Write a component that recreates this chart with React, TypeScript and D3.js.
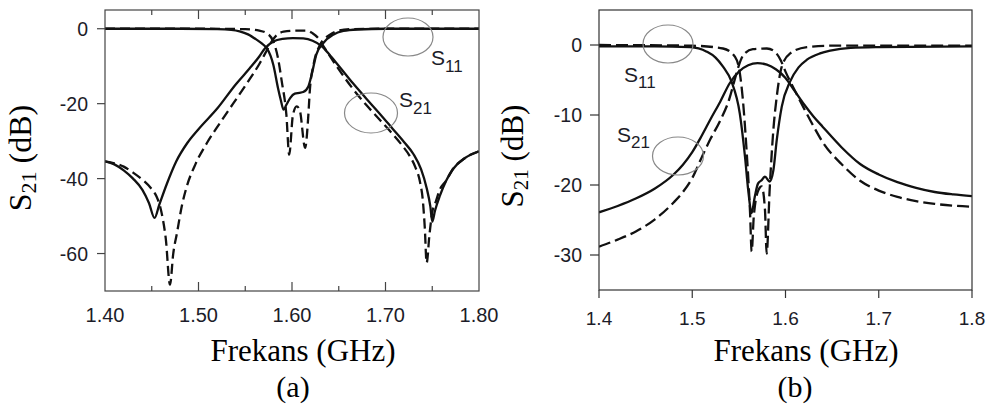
import React from "react";
import * as d3 from "d3";

type Pt = [number, number];

// ---------- Panel (a): frequency (GHz) vs dB ----------
const freqLabelsA = [1.4, 1.5, 1.6, 1.7, 1.8];
const freqTicksA = [1.45, 1.5, 1.55, 1.6, 1.65, 1.7, 1.75];
const dbTicksA = [0, -20, -40, -60];

const s11SolidA: Pt[] = [
  [1.40, 0], [1.48, 0], [1.52, -0.1], [1.535, -0.3], [1.544, -0.7], [1.553, -1.5],
  [1.562, -2.9], [1.568, -4], [1.573, -5.2], [1.577, -7.2], [1.58, -9.6], [1.585, -15.8],
  [1.588, -19], [1.591, -21.6], [1.594, -20.3], [1.598, -18.5], [1.603, -17.3], [1.608, -17.1],
  [1.612, -16.9], [1.6175, -15.4], [1.621, -12.3], [1.626, -6.9], [1.6335, -3.8], [1.644, -1.6],
  [1.655, -0.6], [1.67, -0.2], [1.70, 0], [1.80, 0],
];

const s11DashedA: Pt[] = [
  [1.40, 0], [1.50, 0], [1.55, -0.1], [1.565, -0.5], [1.573, -1.2], [1.58, -3.4],
  [1.585, -7.8], [1.589, -14], [1.594, -23], [1.597, -33.6], [1.601, -23], [1.605, -20.7],
  [1.6085, -22], [1.614, -31.8], [1.6175, -23], [1.619, -16.7], [1.623, -9.6], [1.63, -4.3],
  [1.6406, -1.6], [1.65, -0.5], [1.665, -0.1], [1.70, 0], [1.80, 0],
];

const s21SolidA: Pt[] = [
  [1.40, -35.4], [1.41, -36.2], [1.42, -37.8], [1.43, -40], [1.44, -43], [1.447, -46.5],
  [1.453, -50.5], [1.458, -47], [1.466, -41.5], [1.476, -35.5], [1.488, -30.5], [1.50, -26.8],
  [1.52, -21.3], [1.54, -14.8], [1.555, -10.5], [1.565, -7.4], [1.571, -5.3], [1.58, -3.4],
  [1.59, -2.7], [1.601, -2.5], [1.612, -2.6], [1.622, -3.2], [1.632, -4.7], [1.641, -7.2],
  [1.651, -10.2], [1.665, -14.5], [1.68, -18.8], [1.695, -23], [1.708, -26.8], [1.72, -30.3],
  [1.73, -33.5], [1.738, -37.5], [1.744, -42.5], [1.748, -47.5], [1.75, -51.5], [1.753, -48.5],
  [1.758, -44.7], [1.765, -40.5], [1.772, -37.5], [1.785, -34.5], [1.80, -32.7],
];

const s21DashedA: Pt[] = [
  [1.40, -35.4], [1.41, -35.9], [1.42, -36.8], [1.43, -38.4], [1.441, -40.5], [1.449, -42.5],
  [1.455, -44.7], [1.459, -47.5], [1.462, -51], [1.465, -56], [1.4695, -68.3], [1.473, -60],
  [1.477, -54.5], [1.482, -47.5], [1.487, -42.5], [1.497, -36], [1.509, -30.5], [1.522, -25.5],
  [1.537, -20], [1.552, -14.5], [1.566, -9], [1.573, -5.8], [1.578, -3.5], [1.584, -1.6],
  [1.591, -0.8], [1.605, -0.5], [1.616, -0.5], [1.622, -1.2], [1.628, -2.5], [1.635, -5.2],
  [1.651, -11.2], [1.665, -16], [1.68, -20.5], [1.695, -24.6], [1.708, -28.2], [1.718, -31.2],
  [1.726, -34], [1.732, -37], [1.737, -41], [1.74, -46], [1.742, -53], [1.744, -62.5],
  [1.747, -55], [1.75, -49], [1.754, -46], [1.758, -43], [1.765, -40.5], [1.772, -37.5],
  [1.785, -34.5], [1.80, -32.7],
];

// ---------- Panel (b) ----------
const freqLabelsB = [1.4, 1.5, 1.6, 1.7, 1.8];
const dbTicksB = [0, -10, -20, -30];

const s11SolidB: Pt[] = [
  [1.40, -0.2], [1.46, -0.2], [1.4976, -0.3], [1.5155, -0.95], [1.525, -1.8], [1.533, -3.1],
  [1.542, -5.2], [1.551, -9.8], [1.5566, -16], [1.56, -20.7], [1.5637, -24], [1.567, -21.7],
  [1.5705, -19.8], [1.5745, -19.3], [1.578, -18.8], [1.583, -19.5], [1.587, -17.9], [1.5906, -13.6],
  [1.596, -8.8], [1.605, -5.2], [1.614, -3.2], [1.623, -2.1], [1.637, -1.2], [1.648, -0.8],
  [1.67, -0.4], [1.70, -0.3], [1.80, -0.2],
];

const s11DashedB: Pt[] = [
  [1.40, 0], [1.50, -0.1], [1.533, -0.5], [1.5459, -1.7], [1.551, -4], [1.554, -7.4],
  [1.558, -14.5], [1.562, -24], [1.5637, -29.5], [1.566, -24.5], [1.571, -20.7], [1.5745, -20.2],
  [1.578, -23.6], [1.5798, -29.8], [1.583, -20.7], [1.587, -12.1], [1.5906, -7.4], [1.596, -3.1],
  [1.605, -1.2], [1.623, -0.3], [1.65, -0.1], [1.80, -0.1],
];

const s21SolidB: Pt[] = [
  [1.40, -23.9], [1.42, -23.0], [1.44, -21.9], [1.46, -20.5], [1.48, -18.5], [1.49, -17.1],
  [1.50, -15.3], [1.51, -13], [1.52, -10.5], [1.53, -8.1], [1.54, -5.5], [1.55, -3.8],
  [1.56, -2.9], [1.57, -2.6], [1.58, -2.8], [1.59, -3.5], [1.60, -4.7], [1.61, -6.6],
  [1.62, -8.5], [1.63, -10.2], [1.64, -11.7], [1.66, -14.6], [1.68, -17.0], [1.70, -18.5],
  [1.72, -19.6], [1.74, -20.4], [1.76, -21.0], [1.78, -21.35], [1.80, -21.6],
];

const s21DashedB: Pt[] = [
  [1.40, -28.8], [1.42, -27.8], [1.44, -26.6], [1.46, -24.9], [1.48, -22.5], [1.49, -21],
  [1.50, -19.0], [1.51, -16.1], [1.52, -13.3], [1.53, -10.8], [1.54, -7.6], [1.545, -5.2],
  [1.55, -2.9], [1.555, -1.4], [1.565, -0.6], [1.58, -0.5], [1.587, -0.8], [1.595, -2.2],
  [1.60, -3.8], [1.61, -6.5], [1.62, -9.1], [1.63, -11.6], [1.64, -13.9], [1.66, -17],
  [1.68, -19.4], [1.70, -20.8], [1.72, -21.7], [1.74, -22.3], [1.76, -22.7], [1.78, -22.95],
  [1.80, -23.1],
];

const SANS = "'Liberation Sans', Arial, sans-serif";
const SERIF = "'Liberation Serif', 'Times New Roman', serif";
const INK = "#111";
const TEXT = "#1c1c28";

type Curve = { pts: Pt[]; dashed: boolean };

function makeLine(x: d3.ScaleLinear<number, number>, y: d3.ScaleLinear<number, number>) {
  return d3
    .line<Pt>()
    .x((d) => x(d[0]))
    .y((d) => y(d[1]))
    .curve(d3.curveMonotoneX);
}

function SubLabel({ x, y, sub, dy }: { x: number; y: number; sub: string; dy: number }) {
  return (
    <text x={x} y={y} fontFamily={SANS} fontSize={21} fill={TEXT}>
      S
      <tspan fontSize={17} dy={dy}>
        {sub}
      </tspan>
    </text>
  );
}

function YTitle({ x, y, size, sub }: { x: number; y: number; size: number; sub: number }) {
  return (
    <text
      transform={`translate(${x},${y}) rotate(-90)`}
      textAnchor="middle"
      fontFamily={SERIF}
      fontSize={size}
      fill="#000"
    >
      S
      <tspan fontSize={sub} dy={5}>
        21
      </tspan>
      <tspan dy={-5}> (dB)</tspan>
    </text>
  );
}

function PanelA() {
  const x = d3.scaleLinear().domain([1.4, 1.8]).range([105, 479]);
  const y = d3.scaleLinear().domain([5, -70]).range([10, 291]);
  const line = makeLine(x, y);
  const [x0, x1] = x.range();
  const [y0, y1] = y.range();
  const curves: Curve[] = [
    { pts: s21DashedA, dashed: true },
    { pts: s11DashedA, dashed: true },
    { pts: s21SolidA, dashed: false },
    { pts: s11SolidA, dashed: false },
  ];
  return (
    <g>
      <defs>
        <clipPath id="clipA">
          <rect x={x0} y={y0} width={x1 - x0} height={y1 - y0} />
        </clipPath>
      </defs>
      <g clipPath="url(#clipA)">
        {curves.map((c, i) => (
          <path
            key={i}
            d={line(c.pts) || ""}
            fill="none"
            stroke={INK}
            strokeWidth={2.3}
            strokeDasharray={c.dashed ? "10,5" : undefined}
            strokeLinejoin="round"
          />
        ))}
      </g>
      <rect x={x0} y={y0} width={x1 - x0} height={y1 - y0} fill="none" stroke="#444" strokeWidth={1.2} />
      {freqTicksA.map((f) => {
        const major = Math.abs(Math.round(f * 10) - f * 10) < 1e-6;
        const len = major ? 9 : 5;
        return (
          <g key={f} stroke="#444" strokeWidth={1.2}>
            <line x1={x(f)} x2={x(f)} y1={y0} y2={y0 + len} />
            <line x1={x(f)} x2={x(f)} y1={y1} y2={y1 - len} />
          </g>
        );
      })}
      {dbTicksA.map((v) => (
        <g key={v}>
          <line x1={x0 - 8} x2={x0} y1={y(v)} y2={y(v)} stroke="#444" strokeWidth={1.2} />
          <text x={88} y={y(v)} dy="0.36em" textAnchor="end" fontFamily={SANS} fontSize={19.5} fill={TEXT}>
            {v}
          </text>
        </g>
      ))}
      {freqLabelsA.map((f) => (
        <text key={f} x={x(f)} y={322} textAnchor="middle" fontFamily={SANS} fontSize={20} fill={TEXT}>
          {d3.format(".2f")(f)}
        </text>
      ))}
      <ellipse cx={408} cy={37} rx={25} ry={19} fill="none" stroke="#888" strokeWidth={1.2} />
      <ellipse cx={371} cy={113} rx={26.5} ry={20} fill="none" stroke="#888" strokeWidth={1.2} />
      <SubLabel x={431} y={65} sub="11" dy={7} />
      <SubLabel x={399} y={107} sub="21" dy={7} />
      <YTitle x={31} y={158} size={32} sub={22} />
      <text x={303} y={361} textAnchor="middle" fontFamily={SERIF} fontSize={31} fill="#000">
        Frekans (GHz)
      </text>
      <text x={293} y={397} textAnchor="middle" fontFamily={SERIF} fontSize={30} fill="#000">
        (a)
      </text>
    </g>
  );
}

function PanelB() {
  const x = d3.scaleLinear().domain([1.4, 1.8]).range([599, 972]);
  const y = d3.scaleLinear().domain([5, -35]).range([10, 290]);
  const line = makeLine(x, y);
  const [x0, x1] = x.range();
  const [y0, y1] = y.range();
  const curves: Curve[] = [
    { pts: s21DashedB, dashed: true },
    { pts: s11DashedB, dashed: true },
    { pts: s21SolidB, dashed: false },
    { pts: s11SolidB, dashed: false },
  ];
  return (
    <g>
      <defs>
        <clipPath id="clipB">
          <rect x={x0} y={y0} width={x1 - x0} height={y1 - y0} />
        </clipPath>
      </defs>
      <g clipPath="url(#clipB)">
        {curves.map((c, i) => (
          <path
            key={i}
            d={line(c.pts) || ""}
            fill="none"
            stroke={INK}
            strokeWidth={2.3}
            strokeDasharray={c.dashed ? "12,5" : undefined}
            strokeLinejoin="round"
          />
        ))}
      </g>
      <rect x={x0} y={y0} width={x1 - x0} height={y1 - y0} fill="none" stroke="#333" strokeWidth={1.2} />
      {freqLabelsB.map((f) => (
        <g key={f}>
          <line x1={x(f)} x2={x(f)} y1={y1} y2={y1 + 8} stroke="#333" strokeWidth={1.2} />
          <text x={x(f)} y={325} textAnchor="middle" fontFamily={SANS} fontSize={19} fill={TEXT}>
            {d3.format(".1f")(f)}
          </text>
        </g>
      ))}
      {dbTicksB.map((v) => (
        <g key={v}>
          <line x1={x0 - 9} x2={x0} y1={y(v)} y2={y(v)} stroke="#333" strokeWidth={1.2} />
          <text x={582} y={y(v)} dy="0.36em" textAnchor="end" fontFamily={SANS} fontSize={19.5} fill={TEXT}>
            {v}
          </text>
        </g>
      ))}
      <ellipse cx={668} cy={44} rx={25} ry={19} fill="none" stroke="#888" strokeWidth={1.2} />
      <ellipse cx={678} cy={156} rx={25.5} ry={19} fill="none" stroke="#888" strokeWidth={1.2} />
      <SubLabel x={624} y={82} sub="11" dy={6} />
      <SubLabel x={617} y={142} sub="21" dy={6} />
      <YTitle x={523} y={156} size={31} sub={21} />
      <text x={806} y={361} textAnchor="middle" fontFamily={SERIF} fontSize={31} fill="#000">
        Frekans (GHz)
      </text>
      <text x={795} y={397} textAnchor="middle" fontFamily={SERIF} fontSize={30} fill="#000">
        (b)
      </text>
    </g>
  );
}

export default function App() {
  return (
    <svg
      width={992}
      height={407}
      viewBox="0 0 992 407"
      style={{ position: "absolute", left: 0, top: 0, background: "#fff" }}
    >
      <rect width={992} height={407} fill="#fff" />
      <PanelA />
      <PanelB />
    </svg>
  );
}
